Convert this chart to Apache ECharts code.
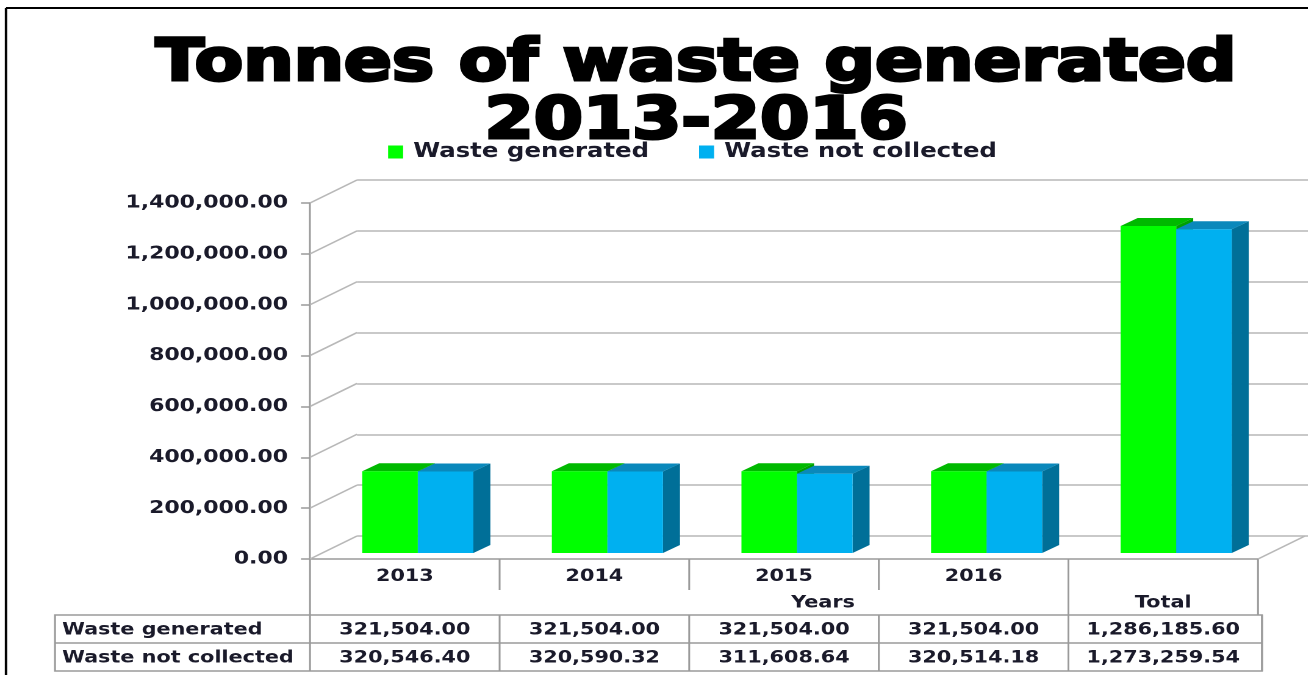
<!DOCTYPE html>
<html>
<head>
<meta charset="utf-8">
<script src="https://cdn.jsdelivr.net/npm/echarts@6/dist/echarts.min.js"></script>
<style>
  html, body { margin: 0; padding: 0; background: #fff; overflow: hidden; }
  /* the original picture is stretched sideways, so the chart is too */
  #main { height: 675px; transform-origin: 0 0; }
</style>
</head>
<body>
<div id="main"></div>
<script>
// data
const categories = ['2013', '2014', '2015', '2016', 'Total'];
const wasteGenerated = [321504.00, 321504.00, 321504.00, 321504.00, 1286185.60];
const wasteNotCollected = [320546.40, 320590.32, 311608.64, 320514.18, 1273259.54];
const yTicks = [0, 200000, 400000, 600000, 800000, 1000000, 1200000, 1400000];
const groupLabels = ['Years', 'Total'];
const seriesNames = ['Waste generated', 'Waste not collected'];

const fmt = (v) => v.toLocaleString('en-US', { minimumFractionDigits: 2, maximumFractionDigits: 2 });

// horizontal stretch of the whole picture
const SX = 1.22;
const px = (x) => x / SX;

const dom = document.getElementById('main');
dom.style.width = px(1308) + 'px';
dom.style.transform = 'scaleX(' + SX + ')';

const FONT = 'DejaVu Sans';
const gridLeft = px(310), gridTop = 203, gridW = px(948), gridH = 356;
const depthX = px(47), depthY = -23;   // back wall offset
const band = gridW / categories.length;
const gridLine = '#b8b8b8';
const axisGray = '#9a9a9a';

const chart = echarts.init(dom, null, { devicePixelRatio: 2 });

// 3d-ish bar: front face + top + side
const makeBar = (side, front, top, dark) => (params, api) => {
  const i = api.value(0);
  const v = api.value(1);
  const base = api.coord([i, 0]);
  const tip = api.coord([i, v]);
  const w = band * 0.293;
  const ox = px(13), oy = -6, dx = px(17), dy = -8;
  const x0 = side === 0 ? base[0] + ox - w : base[0] + ox;
  const x1 = x0 + w;
  const yb = base[1] + oy;
  const yt = tip[1] + oy;
  return {
    type: 'group',
    children: [
      { type: 'polygon', shape: { points: [[x1, yb], [x1 + dx, yb + dy], [x1 + dx, yt + dy], [x1, yt]] }, style: { fill: dark } },
      { type: 'polygon', shape: { points: [[x0, yt], [x0 + dx, yt + dy], [x1 + dx, yt + dy], [x1, yt]] }, style: { fill: top } },
      { type: 'rect', shape: { x: x0, y: yt, width: w, height: yb - yt }, style: { fill: front } }
    ]
  };
};

// table + category area decoration
const graphics = [];
const line = (x1, y1, x2, y2, stroke, lw) => ({
  type: 'line', silent: true, shape: { x1, y1, x2, y2 }, style: { stroke, lineWidth: lw || 1.5 }
});
const text = (x, y, t, align, size) => ({
  type: 'text', silent: true, x, y,
  style: { text: t, align: align || 'center', verticalAlign: 'middle', font: 'bold ' + (size || 17) + 'px "' + FONT + '"', fill: '#1a1a2a' }
});

// frame
graphics.push(line(px(6), 8, px(1308), 8, '#000', 2));
graphics.push(line(px(6), 8, px(6), 675, '#000', 2));

const floorY = gridTop + gridH;
const tableTop = 615, rowH = 28, tableLeft = px(55), tableRight = gridLeft + gridW + px(4);
// category separators
for (let i = 0; i <= categories.length; i++) {
  const x = gridLeft + i * band;
  const long = (i === 0 || i >= categories.length - 1);
  graphics.push(line(x, floorY, x, long ? tableTop : 590, axisGray));
}
graphics.push(text(px(823), 603, groupLabels[0]));
graphics.push(text(gridLeft + 4.5 * band, 603, groupLabels[1]));

// data table
const rows = [wasteGenerated, wasteNotCollected];
graphics.push({ type: 'rect', silent: true, shape: { x: tableLeft, y: tableTop, width: tableRight - tableLeft, height: rowH * 2 }, style: { fill: 'none', stroke: axisGray, lineWidth: 1.5 } });
graphics.push(line(tableLeft, tableTop + rowH, tableRight, tableTop + rowH, axisGray));
rows.forEach((r, ri) => {
  const cy = tableTop + rowH * ri + rowH / 2 + 1;
  graphics.push(text(tableLeft + px(7), cy, seriesNames[ri], 'left'));
  r.forEach((v, ci) => {
    graphics.push(text(gridLeft + (ci + 0.5) * band, cy, fmt(v)));
  });
});
for (let i = 0; i <= categories.length; i++) {
  const x = i === categories.length ? tableRight : gridLeft + i * band;
  graphics.push(line(x, tableTop, x, tableTop + rowH * 2, axisGray));
}

const option = {
  backgroundColor: '#fff',
  animation: false,
  title: {
    text: 'Tonnes of waste generated\n2013-2016',
    left: px(690),
    top: 31,
    textAlign: 'center',
    textStyle: {
      fontFamily: FONT, fontWeight: 'bold', fontSize: 58, lineHeight: 58,
      color: '#000', textBorderColor: '#000', textBorderWidth: 3
    }
  },
  legend: {
    data: seriesNames,
    left: px(382),
    top: 137,
    icon: 'rect',
    itemWidth: px(15),
    itemHeight: 13,
    itemGap: px(50),
    textStyle: { fontFamily: FONT, fontWeight: 'bold', fontSize: 20, color: '#1a1a2a', padding: [0, 0, 0, px(4)] }
  },
  grid: [
    { left: gridLeft, top: gridTop, width: gridW, height: gridH },
    { left: gridLeft + depthX, top: gridTop + depthY, right: 0, height: gridH }
  ],
  xAxis: [
    {
      type: 'category', gridIndex: 0, data: categories,
      axisLine: { lineStyle: { color: axisGray, width: 1.5 } },
      axisTick: { show: false },
      axisLabel: {
        interval: 0, margin: 9,
        formatter: (v) => v === 'Total' ? '' : v,
        fontFamily: FONT, fontWeight: 'bold', fontSize: 17, color: '#1a1a2a'
      }
    },
    { type: 'category', gridIndex: 1, data: categories, show: false }
  ],
  yAxis: [
    {
      type: 'value', gridIndex: 0, min: 0, max: 1400000, interval: 200000,
      axisLine: { show: true, lineStyle: { color: axisGray, width: 1.5 } },
      axisTick: { show: true, length: px(9), lineStyle: { color: axisGray, width: 1.5 } },
      splitLine: { show: false },
      axisLabel: {
        margin: px(22), formatter: (v) => fmt(v),
        fontFamily: FONT, fontWeight: 'bold', fontSize: 18, color: '#1a1a2a'
      }
    },
    {
      type: 'value', gridIndex: 1, min: 0, max: 1400000, interval: 200000,
      axisLine: { show: false }, axisTick: { show: false }, axisLabel: { show: false },
      splitLine: { show: true, lineStyle: { color: gridLine, width: 1.5 } }
    }
  ],
  series: [
    {
      // side-wall diagonals at each tick
      type: 'custom', xAxisIndex: 0, yAxisIndex: 0, silent: true, z: 1,
      data: yTicks.map((v) => [0, v]),
      renderItem: (params, api) => {
        const cs = params.coordSys;
        const y = api.coord([0, api.value(1)])[1];
        const ch = [{ type: 'line', shape: { x1: cs.x, y1: y, x2: cs.x + depthX, y2: y + depthY }, style: { stroke: gridLine, lineWidth: 1.5 } }];
        if (api.value(1) === 0) {
          ch.push({ type: 'line', shape: { x1: cs.x + cs.width, y1: y, x2: cs.x + cs.width + depthX, y2: y + depthY }, style: { stroke: gridLine, lineWidth: 1.5 } });
        }
        return { type: 'group', children: ch };
      }
    },
    {
      name: seriesNames[0], type: 'custom', xAxisIndex: 0, yAxisIndex: 0, z: 3,
      itemStyle: { color: '#00ff00' },
      data: wasteGenerated.map((v, i) => [i, v]),
      renderItem: makeBar(0, '#00ff00', '#00b900', '#00a000')
    },
    {
      name: seriesNames[1], type: 'custom', xAxisIndex: 0, yAxisIndex: 0, z: 4,
      itemStyle: { color: '#00b0f0' },
      data: wasteNotCollected.map((v, i) => [i, v]),
      renderItem: makeBar(1, '#00b0f0', '#0a88bb', '#006f98')
    }
  ],
  graphic: graphics
};

chart.setOption(option);
</script>
</body>
</html>
